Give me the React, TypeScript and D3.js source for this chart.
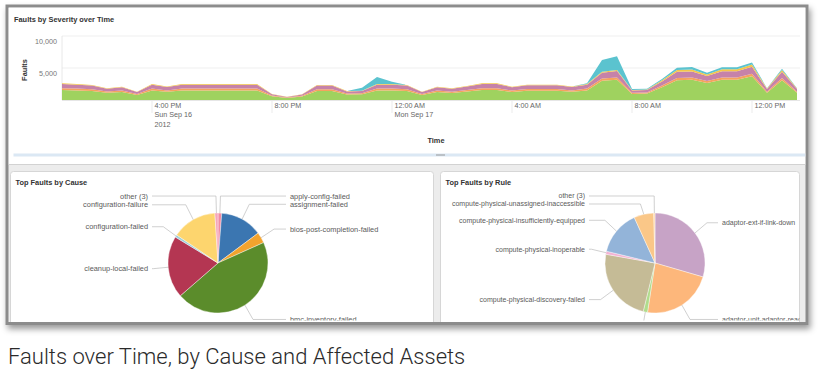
import React from 'react';
import * as d3 from 'd3';

// --- Faults by severity, one value every 30 minutes ---
const severityKeys = ['warning', 'minor', 'major', 'critical', 'info'];
const severityColors = ['#9fd25f', '#f5a35e', '#c682a9', '#f4c64a', '#5bc3cf'];

const warningFaults = [
  1550, 1500, 1420, 1120, 1250, 800, 1500, 1270, 1500, 1500,
  1500, 1500, 1500, 1500, 600, 320, 560, 1420, 1420, 850,
  880, 1500, 1500, 1420, 800, 1250, 1100, 1330, 1550, 1550,
  1250, 1450, 1450, 1450, 1270, 1500, 3000, 3150, 950, 1000,
  2000, 3100, 3150, 2650, 3150, 3150, 3700, 1150, 3100, 1150,
];
const minorFaults = [
  300, 280, 260, 200, 230, 150, 280, 230, 280, 280,
  280, 280, 280, 280, 100, 60, 100, 260, 260, 160,
  160, 280, 280, 260, 150, 230, 200, 240, 300, 300,
  230, 270, 270, 270, 230, 280, 350, 380, 170, 180,
  250, 350, 350, 300, 350, 350, 400, 150, 350, 150,
];
const majorFaults = [
  650, 620, 580, 450, 520, 300, 620, 520, 620, 620,
  620, 620, 620, 620, 210, 100, 200, 580, 580, 330,
  350, 620, 620, 580, 300, 520, 450, 540, 650, 650,
  520, 590, 590, 590, 520, 620, 900, 1000, 370, 400,
  650, 950, 950, 800, 1000, 1000, 1100, 400, 950, 400,
];
const criticalFaults = [
  100, 100, 90, 80, 80, 50, 100, 80, 100, 100,
  100, 100, 100, 100, 40, 20, 40, 90, 90, 60,
  60, 100, 100, 90, 50, 80, 80, 90, 100, 100,
  80, 90, 90, 90, 80, 100, 150, 170, 60, 70,
  200, 300, 300, 250, 300, 300, 350, 100, 300, 100,
];
const infoFaults = [
  0, 0, 0, 0, 0, 0, 0, 0, 0, 0,
  0, 0, 0, 0, 0, 0, 0, 0, 0, 0,
  450, 1100, 350, 0, 0, 0, 0, 0, 0, 0,
  0, 0, 0, 0, 0, 100, 1850, 2150, 150, 100,
  200, 350, 400, 250, 300, 300, 300, 50, 200, 50,
];
const yTicks = [5000, 10000];
const startTime = new Date(2012, 8, 16, 13, 0);
const endTime = new Date(2012, 8, 17, 13, 30);

// --- Top faults by cause ---
const causeLabels = [
  'apply-config-failed', 'assignment-failed', 'bios-post-completion-failed', 'bmc-inventory-failed',
  'cleanup-local-failed', 'configuration-failed', 'configuration-failure', 'other (3)',
];
const causeValues = [1.2, 13.6, 3.5, 45.3, 20.1, 0.8, 14.5, 1.0];
const causeColors = ['#f28aa2', '#3b76b1', '#f2a32e', '#5b8c2b', '#b43652', '#9fd0dc', '#fdd56e', '#f5a6bb'];

// --- Top faults by rule ---
const ruleLabels = [
  'adaptor-ext-if-link-down', 'adaptor-unit-adaptor-reachable', 'compute-physical-assignment-failed',
  'compute-physical-discovery-failed', 'compute-physical-inoperable', 'compute-physical-insufficiently-equipped',
  'compute-physical-unassigned-inaccessible', 'other (3)',
];
const ruleValues = [29.5, 22.9, 1.4, 24.0, 1.0, 14.4, 6.4, 0.4];
const ruleColors = ['#c7a3c6', '#fdb77b', '#b0dc8c', '#c5bb96', '#f4b2d3', '#93b4d9', '#fac788', '#fdd6a4'];

const FONT = '"Liberation Sans", Arial, sans-serif';

type PieProps = {
  title: string;
  labels: string[];
  values: number[];
  colors: string[];
  px: number;
  pw: number;
  cx: number;
  cy: number;
  gap: number;
  fs: number;
};

const PiePanel = ({ title, labels, values, colors, px, pw, cx, cy, gap, fs }: PieProps) => {
  const r = 50;
  const arcs = d3.pie<number>().sort(null).value(d => d)(values);
  const arc = d3.arc<d3.PieArcDatum<number>>().innerRadius(0).outerRadius(r);

  // label positions: mid angle at r + 17, then push apart on each side
  const items = arcs.map((a, i) => {
    const mid = (a.startAngle + a.endAngle) / 2;
    return { i, mid, side: Math.sin(mid) >= 0 ? 1 : -1, y: cy - (r + 17) * Math.cos(mid) };
  });
  [-1, 1].forEach(side => {
    const g = items.filter(d => d.side === side).sort((a, b) => a.y - b.y);
    for (let k = 1; k < g.length; k++) {
      if (g[k].y < g[k - 1].y + 8) g[k].y = g[k - 1].y + 8;
    }
  });
  const clipId = `clip-${Math.round(px)}`;

  return (
    <g>
      <defs>
        <clipPath id={clipId}>
          <rect x={px} y={171.5} width={pw} height={149} />
        </clipPath>
      </defs>
      <rect x={px} y={171.5} width={pw} height={160} rx={3} fill="#fff" stroke="#d6d6d6" />
      <text x={px + 5} y={185} fontSize={7.4} fontWeight="bold" fill="#333">{title}</text>
      <g clipPath={`url(#${clipId})`}>
        {arcs.map((a, i) => (
          <path key={i} d={arc(a) || ''} transform={`translate(${cx},${cy})`} fill={colors[i]} stroke="#fff" strokeWidth={0.4} />
        ))}
        {items.map(d => {
          const ex = cx + r * Math.sin(d.mid);
          const ey = cy - r * Math.cos(d.mid);
          let bx = cx + (r + 15) * Math.sin(d.mid);
          const lx = d.side > 0 ? cx + gap - 4 : cx - 66;
          if (d.side > 0) bx = Math.min(bx, lx); else bx = Math.max(bx, lx);
          return (
            <g key={d.i}>
              <polyline points={`${ex},${ey} ${bx},${d.y} ${lx},${d.y}`} fill="none" stroke="#bcbcbc" strokeWidth={0.7} />
              <text
                x={d.side > 0 ? cx + gap : cx - 70}
                y={d.y}
                dy="0.35em"
                textAnchor={d.side > 0 ? 'start' : 'end'}
                fontSize={fs}
                fill="#5a5a5a"
              >
                {labels[d.i]}
              </text>
            </g>
          );
        })}
      </g>
    </g>
  );
};

export default function App() {
  const x = d3.scaleTime().domain([startTime, endTime]).range([62, 797]);
  const y = d3.scaleLinear().domain([0, 10000]).range([100, 36]);

  const times = d3.timeMinute.every(30)!.range(startTime, d3.timeMinute.offset(endTime, 1));
  const rows = times.map((t, i) => ({
    t,
    warning: warningFaults[i],
    minor: minorFaults[i],
    major: majorFaults[i],
    critical: criticalFaults[i],
    info: infoFaults[i],
  }));
  const series = d3.stack<any>().keys(severityKeys)(rows);
  const area = d3.area<any>()
    .x(d => x(d.data.t))
    .y0(d => y(d[0]))
    .y1(d => y(d[1]));

  const ticks = x.ticks(d3.timeHour.every(4)!);
  const fmtTime = d3.timeFormat('%-I:%M %p');
  const fmtDay = d3.timeFormat('%a %b %-d');
  const fmtYear = d3.timeFormat('%Y');

  return (
    <svg width={818} height={371} style={{ position: 'absolute', left: 0, top: 0, fontFamily: FONT }}>
      <defs>
        <filter id="shadow" x="-5%" y="-5%" width="110%" height="115%">
          <feDropShadow dx={2} dy={4} stdDeviation={3} floodColor="#000" floodOpacity={0.4} />
        </filter>
        <clipPath id="frame">
          <rect x={8.5} y={7.5} width={797} height={314.5} />
        </clipPath>
      </defs>
      <rect width={818} height={371} fill="#fff" />

      {/* frame */}
      <rect x={7} y={6} width={800} height={317.5} fill="#ececec" stroke="#8c8c8c" strokeWidth={3} filter="url(#shadow)" />

      <g clipPath="url(#frame)">
        {/* top panel */}
        <rect x={8.5} y={7.5} width={797} height={157} fill="#fff" />
        <line x1={8.5} x2={805.5} y1={164.5} y2={164.5} stroke="#d2d2d2" />
        <text x={14} y={22} fontSize={7.4} fontWeight="bold" fill="#333">Faults by Severity over Time</text>

        {/* grid */}
        {yTicks.map(t => (
          <g key={t}>
            <line x1={62} x2={800} y1={y(t)} y2={y(t)} stroke="#ebebeb" strokeWidth={0.8} />
            <text x={57} y={y(t) + 7.5} textAnchor="end" fontSize={7.2} fill="#777">{d3.format(',')(t)}</text>
          </g>
        ))}
        <line x1={62} x2={62} y1={36} y2={100} stroke="#e2e2e2" strokeWidth={0.8} />

        {/* stacked areas */}
        {series.map((s, i) => (
          <path key={s.key} d={area(s) || ''} fill={severityColors[i]} />
        ))}
        <line x1={62} x2={800} y1={100.5} y2={100.5} stroke="#e0e0e0" strokeWidth={0.8} />

        {/* time axis */}
        {ticks.map((t, i) => {
          const lines = [fmtTime(t)];
          if (i === 0) lines.push(fmtDay(t), fmtYear(t));
          else if (t.getHours() === 0) lines.push(fmtDay(t));
          return (
            <g key={+t} transform={`translate(${x(t)},0)`}>
              <line y1={100} y2={113} stroke="#e6e6e6" strokeWidth={0.8} />
              {lines.map((l, k) => (
                <text key={k} x={2.5} y={107.5 + k * 9.8} fontSize={7.2} fill="#666">{l}</text>
              ))}
            </g>
          );
        })}
        <text x={436} y={143} textAnchor="middle" fontSize={7.4} fontWeight="bold" fill="#333">Time</text>
        <text transform="translate(27,70) rotate(-90)" textAnchor="middle" fontSize={7.4} fontWeight="bold" fill="#333">Faults</text>

        {/* range slider */}
        <rect x={13.5} y={153.5} width={792} height={3} fill="#dbe8f4" />
        <line x1={436} x2={445} y1={155} y2={155} stroke="#9a9a9a" strokeWidth={1} />

        <PiePanel title="Top Faults by Cause" labels={causeLabels} values={causeValues} colors={causeColors}
          px={10.5} pw={423} cx={218} cy={263} gap={72} fs={7.4} />
        <PiePanel title="Top Faults by Rule" labels={ruleLabels} values={ruleValues} colors={ruleColors}
          px={440.5} pw={359} cx={655} cy={263} gap={67} fs={7} />
      </g>

      <text x={8} y={364} fontSize={22} fontWeight={300} fill="#2a2a2a" style={{ fontFamily: 'Roboto, sans-serif' }}>
        Faults over Time, by Cause and Affected Assets
      </text>
    </svg>
  );
}
